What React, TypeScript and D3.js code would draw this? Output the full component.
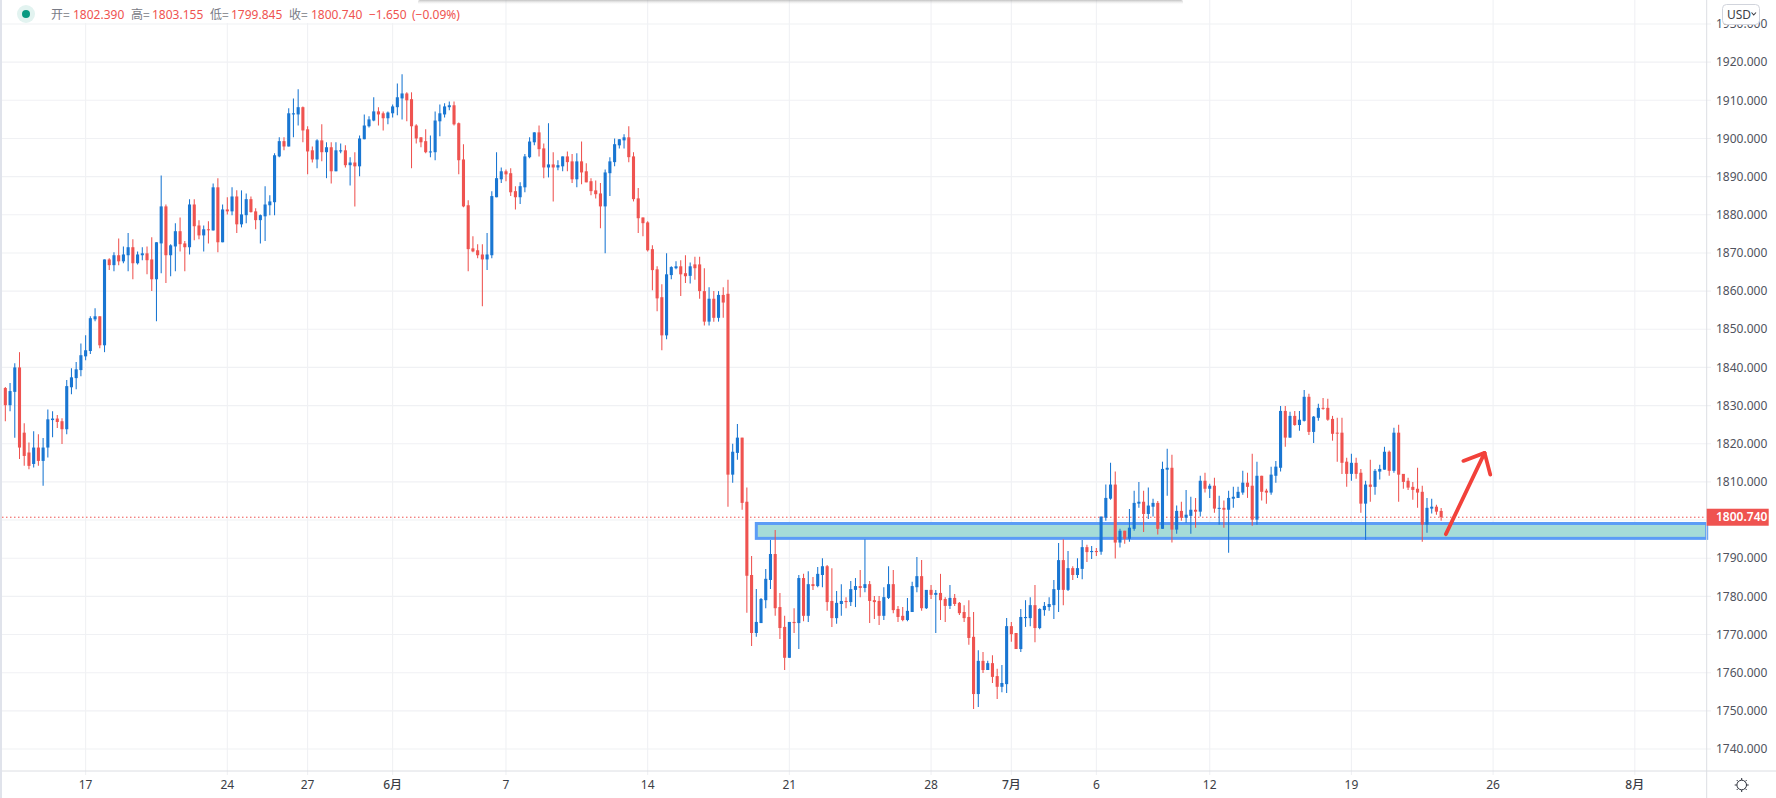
import React from "react";
import * as d3 from "d3";

const W = 1776;
const H = 798;

const opens = [
  1834.6,1830.1,1833.6,1840.0,1822.9,1817.7,1814.7,1819.0,1815.5,1819.0,
  1826.2,1826.6,1825.9,1823.8,1834.8,1837.2,1839.3,1842.9,1844.3,1852.6,
  1853.4,1845.8,1868.3,1866.8,1869.4,1867.8,1869.4,1871.5,1867.3,1869.4,
  1869.9,1868.3,1863.1,1872.5,1882.2,1869.4,1871.7,1875.7,1872.5,1871.5,
  1882.7,1877.2,1874.6,1876.2,1875.9,1887.2,1872.8,1881.4,1880.9,1884.8,
  1877.5,1879.9,1884.1,1880.9,1878.6,1879.6,1882.5,1883.3,1895.3,1899.3,
  1897.9,1906.3,1906.3,1908.2,1902.4,1896.9,1894.5,1899.5,1896.4,1897.7,
  1891.4,1896.6,1896.9,1893.0,1893.7,1892.7,1899.8,1903.2,1904.7,1907.1,
  1906.6,1905.3,1906.6,1908.2,1910.5,1911.8,1910.3,1903.4,1900.3,1899.3,
  1896.4,1896.4,1904.5,1906.3,1908.2,1908.7,1904.0,1894.5,1882.5,1871.2,
  1870.7,1869.6,1868.3,1869.4,1884.6,1889.3,1891.4,1890.9,1886.2,1884.6,
  1887.2,1895.1,1899.0,1901.6,1897.4,1892.4,1893.2,1892.4,1892.7,1895.3,
  1894.0,1889.3,1894.0,1891.4,1888.8,1886.4,1885.6,1882.2,1890.9,1893.8,
  1898.2,1899.5,1900.3,1895.3,1884.3,1879.3,1878.0,1871.0,1865.7,1858.4,
  1848.4,1864.2,1866.0,1866.5,1864.7,1864.0,1867.0,1867.0,1860.0,1852.0,
  1858.0,1853.0,1859.0,1859.3,1811.9,1817.6,1821.6,1804.8,1785.6,1770.4,
  1773.0,1779.0,1784.3,1791.1,1777.2,1772.0,1763.9,1773.3,1773.0,1784.8,
  1774.9,1783.2,1782.7,1785.6,1787.9,1778.8,1774.3,1778.0,1778.8,1778.5,
  1781.7,1782.7,1782.2,1783.2,1779.0,1778.8,1774.9,1779.6,1783.2,1776.7,
  1774.9,1773.8,1775.9,1782.4,1785.3,1776.9,1781.7,1780.4,1780.9,1779.3,
  1777.5,1779.6,1778.3,1775.9,1774.6,1769.4,1754.4,1763.1,1760.7,1762.5,
  1759.1,1756.3,1757.0,1772.2,1770.4,1766.2,1774.3,1774.3,1777.7,1771.7,
  1776.4,1777.2,1777.7,1781.7,1789.5,1781.7,1787.4,1785.6,1787.2,1792.9,
  1791.6,1791.9,1791.7,1800.6,1805.6,1809.3,1794.1,1797.2,1795.1,1797.7,
  1804.3,1804.8,1801.6,1803.5,1804.5,1797.7,1813.2,1813.7,1797.5,1802.4,
  1800.6,1801.1,1802.7,1802.2,1810.3,1808.2,1809.0,1803.0,1803.2,1802.7,
  1805.6,1805.8,1807.2,1809.8,1809.0,1800.1,1811.6,1807.7,1807.2,1811.6,
  1813.7,1828.6,1821.6,1827.3,1824.9,1826.0,1832.3,1823.1,1826.8,1829.4,
  1829.4,1826.5,1822.9,1822.9,1815.3,1812.1,1815.0,1812.4,1804.3,1809.3,
  1808.7,1812.7,1813.2,1817.9,1812.9,1822.9,1812.1,1810.3,1808.7,1808.2,
  1807.4,1798.8,1803.0,1803.5,1802.39,
];

const closes = [
  1830.1,1833.8,1840.0,1819.0,1816.8,1814.2,1819.0,1815.5,1819.0,1826.4,
  1826.6,1825.7,1823.8,1835.1,1837.4,1839.5,1843.2,1844.5,1852.9,1853.4,
  1845.8,1868.3,1866.8,1869.4,1867.8,1869.6,1871.5,1867.3,1869.6,1869.9,
  1868.1,1863.1,1872.8,1882.2,1869.4,1872.0,1875.7,1872.3,1871.5,1882.7,
  1877.0,1874.6,1876.2,1876.0,1887.2,1872.8,1881.4,1880.9,1884.8,1877.5,
  1880.1,1884.1,1880.7,1878.6,1879.9,1882.7,1883.5,1895.6,1899.3,1897.9,
  1906.6,1906.6,1908.2,1902.1,1896.6,1894.5,1899.5,1896.4,1897.7,1891.4,
  1896.9,1896.9,1893.0,1893.7,1892.7,1900.0,1903.4,1905.0,1907.1,1906.3,
  1905.3,1906.8,1908.4,1910.8,1911.8,1910.0,1903.2,1900.0,1899.0,1896.4,
  1896.6,1904.7,1906.6,1908.4,1908.7,1903.7,1894.3,1882.2,1871.0,1870.4,
  1869.4,1868.3,1869.6,1884.9,1889.6,1891.4,1890.6,1885.9,1884.6,1887.5,
  1895.3,1899.2,1901.6,1897.2,1892.4,1893.2,1892.4,1893.0,1895.3,1893.8,
  1889.3,1894.0,1891.1,1888.5,1886.2,1885.4,1882.2,1891.1,1894.0,1898.5,
  1899.8,1900.3,1895.1,1884.1,1879.1,1877.8,1870.7,1865.5,1858.1,1848.4,
  1864.4,1866.3,1866.5,1864.4,1863.9,1866.5,1866.0,1860.0,1852.0,1858.0,
  1853.0,1859.0,1857.0,1811.9,1817.9,1821.6,1804.5,1785.4,1770.4,1773.3,
  1779.3,1784.6,1791.1,1776.9,1771.7,1763.9,1773.3,1773.0,1784.8,1774.9,
  1783.2,1782.7,1785.9,1787.9,1778.5,1774.3,1778.3,1778.8,1778.5,1781.9,
  1782.7,1782.2,1783.2,1778.8,1778.5,1774.9,1779.8,1783.2,1776.4,1774.6,
  1773.8,1776.2,1782.7,1785.3,1776.9,1781.7,1780.4,1780.9,1779.0,1777.5,
  1779.6,1778.0,1775.6,1774.3,1769.1,1754.4,1763.1,1760.7,1762.5,1758.9,
  1756.3,1757.3,1772.2,1770.1,1766.2,1774.6,1774.6,1777.7,1771.7,1776.7,
  1777.5,1778.0,1781.9,1789.5,1781.7,1787.4,1785.6,1787.4,1792.9,1791.6,
  1791.9,1791.6,1800.9,1805.8,1809.3,1794.1,1797.2,1795.1,1798.0,1804.5,
  1804.8,1801.6,1803.8,1804.5,1797.7,1813.4,1813.7,1797.5,1802.4,1800.6,
  1801.4,1802.7,1802.2,1810.3,1808.2,1809.0,1803.0,1803.2,1802.7,1805.8,
  1806.1,1807.4,1809.8,1808.7,1800.1,1811.6,1807.4,1807.2,1811.9,1814.0,
  1828.6,1821.6,1827.3,1824.9,1826.3,1832.3,1823.1,1827.1,1829.4,1829.2,
  1826.3,1822.6,1822.7,1815.0,1812.1,1815.0,1812.1,1804.3,1809.3,1808.7,
  1812.9,1813.4,1817.9,1812.9,1822.9,1811.9,1810.0,1808.5,1807.9,1807.2,
  1798.8,1803.2,1803.5,1802.2,1800.74,
];

const highs = [
  1834.9,1835.9,1841.1,1844.0,1825.4,1820.3,1823.3,1822.5,1821.5,1829.0,
  1828.5,1827.5,1826.7,1836.7,1839.8,1841.4,1846.3,1848.4,1853.4,1855.5,
  1853.4,1868.3,1868.6,1870.2,1873.8,1871.7,1875.2,1873.6,1870.4,1871.5,
  1871.7,1874.1,1872.8,1890.3,1882.7,1872.3,1877.8,1879.3,1873.1,1884.1,
  1884.1,1878.6,1877.2,1878.3,1888.2,1889.6,1882.7,1884.6,1887.2,1886.4,
  1886.4,1885.6,1884.8,1881.7,1880.1,1887.5,1885.1,1896.1,1900.3,1900.3,
  1907.9,1910.5,1912.9,1908.4,1903.2,1897.9,1899.8,1903.7,1899.0,1899.0,
  1899.0,1898.7,1898.2,1895.1,1896.4,1900.8,1906.3,1905.8,1910.8,1908.2,
  1907.1,1907.1,1908.9,1914.4,1916.8,1912.1,1912.1,1903.7,1900.3,1902.4,
  1900.8,1907.1,1908.9,1909.2,1909.7,1909.7,1904.2,1898.5,1883.8,1874.4,
  1872.3,1872.3,1875.2,1886.2,1896.4,1892.4,1891.9,1892.2,1887.5,1888.5,
  1895.9,1900.3,1901.6,1903.4,1898.7,1904.0,1896.4,1894.3,1895.3,1896.6,
  1895.9,1896.1,1899.2,1893.5,1889.6,1889.0,1888.3,1891.9,1895.1,1900.0,
  1899.8,1901.1,1903.2,1896.4,1887.0,1879.3,1878.3,1872.0,1866.5,1861.8,
  1869.9,1866.5,1867.8,1868.1,1869.4,1867.5,1869.0,1869.0,1866.0,1861.0,
  1860.0,1860.0,1861.0,1863.0,1820.0,1825.2,1821.6,1808.5,1790.6,1781.9,
  1779.6,1787.2,1794.8,1797.4,1780.9,1774.9,1773.3,1776.9,1785.6,1785.9,
  1786.6,1785.1,1787.7,1790.0,1788.2,1787.4,1781.4,1783.2,1779.8,1784.0,
  1784.8,1786.9,1795.0,1784.0,1780.1,1780.1,1782.4,1787.9,1786.9,1777.5,
  1777.2,1779.6,1783.8,1790.3,1789.5,1781.7,1783.0,1781.7,1785.9,1779.8,
  1783.0,1780.6,1778.5,1777.7,1779.0,1775.9,1765.9,1765.4,1763.1,1764.6,
  1761.0,1762.0,1774.3,1773.3,1770.4,1776.7,1779.0,1779.8,1783.0,1776.9,
  1778.5,1779.8,1784.3,1794.0,1795.0,1791.9,1787.9,1790.0,1794.8,1793.5,
  1793.2,1792.7,1800.9,1809.3,1815.0,1812.7,1797.7,1797.2,1802.9,1807.7,
  1810.0,1807.7,1808.5,1805.6,1805.0,1815.3,1818.7,1817.1,1803.8,1804.8,
  1807.9,1806.1,1805.8,1811.6,1812.4,1809.5,1811.1,1806.4,1805.1,1807.7,
  1808.7,1808.7,1812.9,1812.4,1817.4,1815.3,1811.6,1808.2,1814.0,1815.5,
  1829.9,1829.9,1828.4,1828.6,1828.6,1834.1,1833.1,1827.3,1830.5,1832.0,
  1831.8,1827.3,1826.8,1826.8,1816.3,1817.4,1816.3,1813.4,1810.3,1815.8,
  1813.4,1814.5,1819.2,1818.2,1824.2,1825.0,1812.1,1811.1,1810.0,1813.7,
  1809.0,1805.8,1805.6,1804.0,1803.155,
];

const lows = [
  1825.9,1828.5,1821.6,1816.0,1814.2,1813.3,1813.8,1814.2,1809.0,1816.4,
  1821.7,1824.1,1819.9,1822.5,1833.0,1834.3,1837.7,1841.9,1843.5,1852.1,
  1845.0,1844.0,1865.5,1865.2,1866.8,1867.3,1865.2,1863.1,1867.0,1868.1,
  1864.4,1860.0,1852.1,1864.7,1862.1,1863.9,1865.2,1870.4,1865.2,1869.6,
  1873.3,1873.6,1870.4,1872.5,1875.9,1870.2,1872.8,1880.1,1879.9,1875.2,
  1876.7,1877.8,1880.6,1876.2,1872.5,1873.1,1879.9,1879.9,1895.1,1896.9,
  1897.9,1900.3,1903.4,1899.0,1890.6,1893.7,1892.2,1894.0,1889.6,1888.2,
  1891.4,1896.1,1892.4,1887.7,1882.2,1890.1,1899.8,1902.9,1904.5,1903.4,
  1902.1,1903.7,1905.5,1906.1,1905.0,1904.5,1892.2,1898.7,1897.7,1896.1,
  1895.1,1894.3,1900.6,1905.5,1907.4,1903.4,1890.6,1882.0,1865.2,1870.2,
  1868.6,1856.0,1865.5,1868.6,1884.6,1888.3,1888.8,1884.9,1881.4,1882.8,
  1885.9,1894.8,1898.2,1895.3,1889.6,1889.8,1883.5,1891.7,1891.4,1891.4,
  1888.3,1887.2,1888.0,1888.5,1885.1,1884.3,1876.5,1869.9,1884.9,1892.7,
  1897.4,1897.4,1893.8,1883.5,1875.2,1874.4,1870.4,1860.2,1854.7,1844.5,
  1847.4,1863.1,1865.7,1858.7,1862.1,1862.0,1863.0,1858.0,1851.0,1851.0,
  1852.0,1852.0,1853.0,1803.5,1809.8,1815.8,1802.7,1775.7,1767.0,1769.4,
  1773.0,1776.9,1781.9,1774.9,1768.8,1760.7,1763.9,1770.4,1766.2,1773.5,
  1773.3,1781.7,1782.4,1782.4,1776.2,1772.0,1772.8,1774.9,1776.9,1777.5,
  1777.2,1779.8,1781.1,1773.0,1774.1,1772.5,1773.8,1779.3,1775.6,1773.3,
  1773.5,1773.5,1775.9,1781.1,1776.2,1776.7,1779.3,1770.4,1773.8,1773.3,
  1776.7,1777.5,1775.1,1773.3,1767.3,1750.5,1751.0,1759.9,1760.7,1757.3,
  1753.1,1754.9,1754.7,1768.1,1766.2,1765.4,1772.0,1772.2,1768.0,1771.4,
  1774.9,1776.2,1774.1,1775.9,1777.7,1781.4,1784.3,1784.8,1784.5,1789.0,
  1789.8,1790.6,1790.9,1799.8,1805.3,1789.9,1792.8,1793.8,1794.3,1797.2,
  1803.2,1796.9,1800.3,1800.9,1796.2,1797.7,1806.4,1794.1,1796.4,1799.8,
  1799.3,1796.4,1798.0,1800.9,1807.2,1805.8,1801.9,1798.8,1798.0,1791.4,
  1803.2,1805.8,1806.6,1805.8,1798.5,1798.8,1805.1,1804.3,1806.6,1809.8,
  1812.7,1819.2,1821.6,1824.7,1823.4,1825.8,1822.3,1820.2,1826.0,1828.9,
  1826.0,1820.8,1815.3,1812.1,1808.7,1810.3,1810.8,1801.9,1794.8,1804.8,
  1806.6,1810.6,1813.2,1811.6,1812.4,1804.8,1808.2,1807.9,1805.3,1803.2,
  1794.3,1796.7,1801.7,1801.4,1799.845,
];

const priceTicks = [
  1930, 1920, 1910, 1900, 1890, 1880, 1870, 1860, 1850, 1840,
  1830, 1820, 1810, 1800, 1790, 1780, 1770, 1760, 1750, 1740,
];
const timeTickBars = [17, 47, 64, 82, 106, 136, 166, 196, 213, 231, 255, 285, 315, 345];
const timeTickLabels = ["17", "24", "27", "6月", "7", "14", "21", "28", "7月", "6", "12", "19", "26", "8月"];

const lastPrice = 1800.74;
const zoneStartBar = 159;
const zoneTop = 1799.1;
const zoneBottom = 1795.2;
const arrowShaft: [number, number][] = [[305, 1796.3], [313.2, 1817.6]];
const arrowHead: [number, number][] = [[308.7, 1815.5], [313.2, 1817.6], [314.4, 1811.9]];

const legendItems: [string, string, number, number][] = [
  ["开=", "1802.390", 51, 73],
  ["高=", "1803.155", 131, 152],
  ["低=", "1799.845", 210, 231],
  ["收=", "1800.740", 289, 311],
];
const changeText = "−1.650";
const changePctText = "(−0.09%)";

const FONT = "'Noto Sans', 'Noto Sans CJK SC', sans-serif";
const UP = "#1976d2";
const DOWN = "#ef5350";
const GRID = "#f0f1f4";
const AXIS_X = 1706.7;
const AXIS_Y = 771;

const x = d3.scaleLinear().domain([0, 345]).range([5.33, 1634.8]);
const y = d3.scaleLinear().domain([1930, 1740]).range([24, 749]);

const arrowLine = d3
  .line<[number, number]>()
  .x((d) => x(d[0]))
  .y((d) => y(d[1]));

const sunRays = d3.range(8).map((k) => (k * Math.PI) / 4);

export default function App() {
  return (
    <svg
      width={W}
      height={H}
      viewBox={`0 0 ${W} ${H}`}
      style={{ position: "fixed", left: 0, top: 0, background: "#fff", display: "block" }}
      fontFamily={FONT}
    >
      <defs>
        <linearGradient id="popupShadow" x1="0" y1="0" x2="0" y2="1">
          <stop offset="0%" stopColor="#8f8f8f" stopOpacity={0.55} />
          <stop offset="100%" stopColor="#ffffff" stopOpacity={0} />
        </linearGradient>
      </defs>
      <rect x={0} y={0} width={W} height={H} fill="#fff" />

      {priceTicks.map((p) => (
        <line key={p} x1={2} x2={1711} y1={y(p)} y2={y(p)} stroke={GRID} strokeWidth={1.1} />
      ))}
      {timeTickBars.map((b) => (
        <line key={b} x1={x(b)} x2={x(b)} y1={0} y2={AXIS_Y + 4} stroke={GRID} strokeWidth={1.1} />
      ))}

      <rect x={2} y={0} width={418} height={23} fill="#fff" />
      <rect x={0} y={0} width={2} height={H} fill="#e0e3eb" />
      <rect x={418} y={0} width={765} height={5} rx={2} fill="url(#popupShadow)" />

      <line
        x1={2}
        x2={AXIS_X}
        y1={y(lastPrice)}
        y2={y(lastPrice)}
        stroke={DOWN}
        strokeWidth={1}
        strokeDasharray="1.5 2.5"
      />

      <rect
        x={x(zoneStartBar)}
        y={y(zoneTop)}
        width={AXIS_X - x(zoneStartBar)}
        height={y(zoneBottom) - y(zoneTop)}
        fill="#a5dcd8"
        stroke="#5b9cf6"
        strokeWidth={3}
      />

      {opens.map((o, i) => {
        const c = closes[i];
        const color = c >= o ? UP : DOWN;
        const top = y(Math.max(o, c));
        const bottom = y(Math.min(o, c));
        return (
          <g key={i}>
            <line x1={x(i)} x2={x(i)} y1={y(highs[i])} y2={y(lows[i])} stroke={color} strokeWidth={1.05} />
            <rect x={x(i) - 1.55} y={top} width={3.1} height={Math.max(1, bottom - top)} fill={color} />
          </g>
        );
      })}

      <path d={arrowLine(arrowShaft) ?? ""} fill="none" stroke="#f2413a" strokeWidth={3.8} strokeLinecap="round" />
      <path
        d={arrowLine(arrowHead) ?? ""}
        fill="none"
        stroke="#f2413a"
        strokeWidth={3.8}
        strokeLinecap="round"
        strokeLinejoin="round"
      />

      {/* legend */}
      <circle cx={26} cy={14} r={9} fill="#e2f3f0" />
      <circle cx={26} cy={14} r={4} fill="#089981" />
      {legendItems.map(([label, value, lx, vx]) => (
        <g key={label} fontSize={12}>
          <text x={lx} y={18.5} fill="#787b86" fontFamily="'Noto Sans CJK SC', sans-serif">{label}</text>
          <text x={vx} y={18.5} fill={DOWN}>{value}</text>
        </g>
      ))}
      <text x={369} y={18.5} fontSize={12} fill={DOWN}>{changeText}</text>
      <text x={412} y={18.5} fontSize={12} fill={DOWN}>{changePctText}</text>

      {/* axes */}
      <line x1={AXIS_X} x2={AXIS_X} y1={0} y2={H} stroke="#dcdee3" strokeWidth={1} />
      <line x1={2} x2={W} y1={AXIS_Y} y2={AXIS_Y} stroke="#dcdee3" strokeWidth={1} />
      {priceTicks.map((p) => (
        <text key={p} x={1716} y={y(p) + 4.2} fontSize={12} fill="#50535e">
          {d3.format(".3f")(p)}
        </text>
      ))}
      {timeTickBars.map((b, i) => (
        <text
          key={b}
          x={x(b)}
          y={789}
          textAnchor="middle"
          fontSize={12}
          fill="#3c3e46"
          fontFamily="'Noto Sans', 'Noto Sans CJK SC', sans-serif"
          fontWeight={timeTickLabels[i].includes("月") ? 500 : 400}
        >
          {timeTickLabels[i]}
        </text>
      ))}

      {/* last price badge */}
      <rect x={AXIS_X} y={y(lastPrice) - 8.5} width={62} height={17} fill="#ef5350" />
      <text
        x={1716}
        y={y(lastPrice) + 4.2}
        fontSize={12}
        fill="#fff"
        fontWeight={600}
      >
        {d3.format(".3f")(lastPrice)}
      </text>

      {/* currency button */}
      <rect x={1722.5} y={4.5} width={37} height={20} rx={4} fill="#fff" stroke="#d1d4dc" strokeWidth={1} />
      <text x={1727} y={18.5} fontSize={12} fill="#3c3e46">USD</text>
      <path d="M1751.5 12.5 L1753.7 15 L1756 12.5" fill="none" stroke="#3c3e46" strokeWidth={1.1} />

      {/* settings icon */}
      <g stroke="#2a2e39" strokeWidth={1} fill="none">
        <circle cx={1741.7} cy={785} r={4.8} />
        {sunRays.map((a) => (
          <line
            key={a}
            x1={1741.7 + Math.cos(a) * 5}
            y1={785 + Math.sin(a) * 5}
            x2={1741.7 + Math.cos(a) * 7}
            y2={785 + Math.sin(a) * 7}
          />
        ))}
      </g>
    </svg>
  );
}
